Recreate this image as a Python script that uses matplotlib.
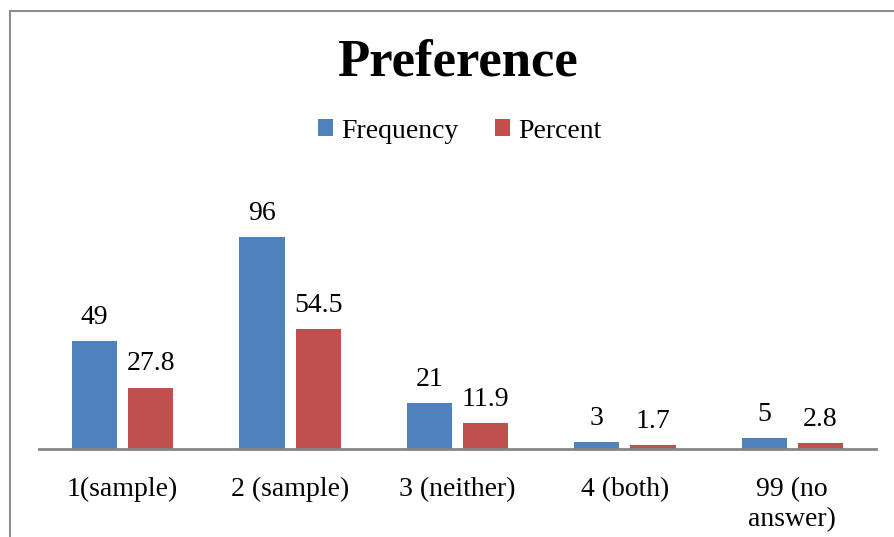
import matplotlib.pyplot as plt
import numpy as np
from matplotlib.patches import Rectangle

categories = ['1(sample)', '2 (sample)', '3 (neither)', '4 (both)', '99 (no\nanswer)']
frequency = [49, 96, 21, 3, 5]
percent = [27.8, 54.5, 11.9, 1.7, 2.8]

blue = '#4F81BD'
red = '#C0504D'
serif = ['Liberation Serif', 'DejaVu Serif']

fig = plt.figure(figsize=(8.94, 5.37), dpi=100)
W, H = 894, 537

# chart frame, only top and left edges visible
fig.patches.append(Rectangle((10 / W, -0.1), 1.2, 1 - 11 / H + 0.1,
                             transform=fig.transFigure, fill=False,
                             edgecolor='#8c8c8c', linewidth=1.5))

ax = fig.add_axes([39 / W, (H - 449) / H, (876 - 39) / W, (449 - 184) / H])
x = np.arange(len(categories))
w = 0.27
b1 = ax.bar(x - 0.168, frequency, w, color=blue, label='Frequency')
b2 = ax.bar(x + 0.168, percent, w, color=red, label='Percent')

ax.set_xlim(-0.5, len(categories) - 0.5)
ax.set_ylim(0, 120)
ax.set_yticks([])
for s in ['top', 'right', 'left']:
    ax.spines[s].set_visible(False)
ax.spines['bottom'].set_color('#868686')
ax.spines['bottom'].set_linewidth(2)
ax.set_xticks(x)
ax.set_xticklabels(categories, family=serif, fontsize=20, linespacing=1.3)
ax.tick_params(axis='x', length=0, pad=20)

for bars, vals in [(b1, frequency), (b2, percent)]:
    for r, v in zip(bars, vals):
        ax.annotate(f'{v:g}', (r.get_x() + r.get_width() / 2, r.get_height()),
                    xytext=(0, 8), textcoords='offset points',
                    ha='center', va='bottom', family=serif, fontsize=20)

fig.text(457 / W, 1 - 62 / H, 'Preference', ha='center', va='center',
         family=serif, fontsize=38, fontweight='bold')
fig.legend(handles=[b1, b2], loc='center', bbox_to_anchor=(460 / W, 1 - 131 / H),
           ncol=2, frameon=False, prop={'family': serif, 'size': 20},
           handlelength=0.55, handleheight=0.55, handletextpad=0.3, columnspacing=1.3)

fig.savefig('out.png', dpi=100)
